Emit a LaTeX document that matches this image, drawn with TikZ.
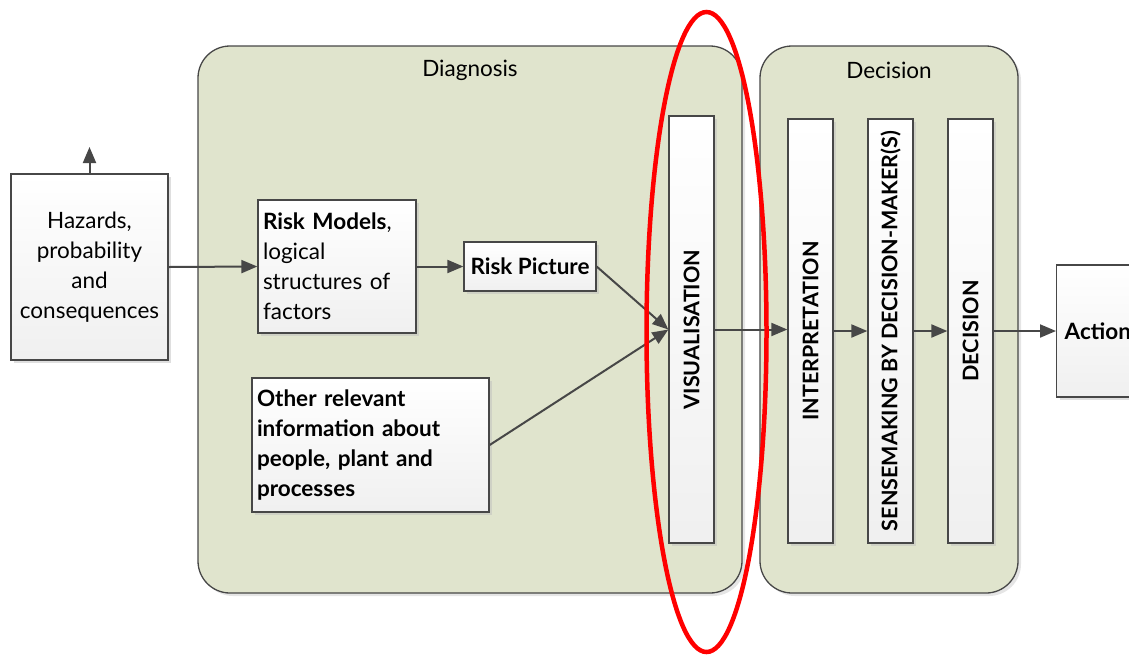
\documentclass[tikz,border=0pt]{standalone}
\usepackage{fontspec}
\setmainfont{Lato}
\usepackage{xcolor}
\usepackage{tikz}
\usetikzlibrary{arrows.meta, positioning, shadows}
\definecolor{linegray}{HTML}{474747}
\definecolor{panelfill}{HTML}{E0E4CD}
\definecolor{ringred}{HTML}{FF0000}
\newcommand{\diagfont}{\fontsize{22.5}{30}\selectfont}
\newcommand{\barfont}{\fontsize{21.5}{26}\selectfont\bfseries}
\tikzset{
  box/.style={draw=linegray, line width=1.3pt, top color=white, bottom color=gray!12,
    drop shadow={shadow xshift=3pt, shadow yshift=-3pt, fill=black!25, opacity=0.5},
    inner sep=5pt, font=\diagfont},
  panel/.style={draw=linegray, line width=1.3pt, fill=panelfill, rounded corners=32pt,
    drop shadow={shadow xshift=3pt, shadow yshift=-3pt, fill=black!25, opacity=0.4}},
  bar/.style={box, minimum width=45pt, inner sep=0pt, font=\barfont},
  flow/.style={draw=linegray, line width=2pt, -{Triangle[length=16pt,width=13pt]}}
}

\begin{document}
\begin{tikzpicture}[x=1pt, y=-1pt]
        \useasboundingbox (0,0) rectangle (1129,657);
        % panels
        \node[panel, minimum width=544pt, minimum height=547pt] (diagpanel) at (470,319.5) {};
        \node[font=\diagfont] at (470,70) {Diagnosis};
        \node[panel, minimum width=258pt, minimum height=547pt] (decpanel) at (889,319.5) {};
        \node[font=\diagfont] at (889,70) {Decision};

        % input side
        \node[box, minimum width=157pt, minimum height=186pt, align=center] (hazards) at (89.5,267)
            {Hazards,\\probability\\and\\consequences};
        \coordinate (hazup) at (89.5,147);
        \node[box, minimum width=158pt, minimum height=133pt, text width=148pt, align=left] (riskmodels) at (337,266.5)
            {\textbf{Risk Models},\\logical\\structures of\\factors};
        \node[box, minimum width=132pt, minimum height=49pt, font={\diagfont\bfseries}] (riskpic) at (530,266.5)
            {Risk Picture};
        \node[box, minimum width=237pt, minimum height=134pt, text width=227pt, align=left, font={\diagfont\bfseries}] (otherinfo) at (370.5,445)
            {Other relevant\\information about\\people, plant and\\processes};

        % vertical bars
        \node[bar, minimum height=427pt] (visual) at (691.5,329.5) {\rotatebox{90}{VISUALISATION}};
        \node[bar, minimum height=424pt] (interp) at (810.5,331) {\rotatebox{90}{INTERPRETATION}};
        \node[bar, minimum height=424pt] (sense) at (890.5,331) {\rotatebox{90}{SENSEMAKING BY DECISION-MAKER(S)}};
        \node[bar, minimum height=424pt] (decide) at (970.5,331) {\rotatebox{90}{DECISION}};
        \node[box, anchor=west, minimum height=132pt, text width=82pt, align=left, inner sep=8pt,
              font={\diagfont\bfseries}] (action) at (1056,331) {Action};

        % connectors
        \draw[flow] (hazards.north) -- (hazup);
        \draw[flow] (hazards.east) -- (riskmodels.west);
        \draw[flow] (riskmodels.east) -- (riskpic.west);
        \draw[flow] (riskpic.east) -- (visual.west);
        \draw[flow] (otherinfo.east) -- (visual.west);
        \draw[flow] (visual.east) -- (visual.east -| interp.west);
        \draw[flow] (interp.east) -- (sense.west);
        \draw[flow] (sense.east) -- (decide.west);
        \draw[flow] (decide.east) -- (action.west);

        % highlight
        \draw[ringred, line width=4.5pt] (706.5,332) ellipse [x radius=60, y radius=320];
    \end{tikzpicture}
\end{document}
